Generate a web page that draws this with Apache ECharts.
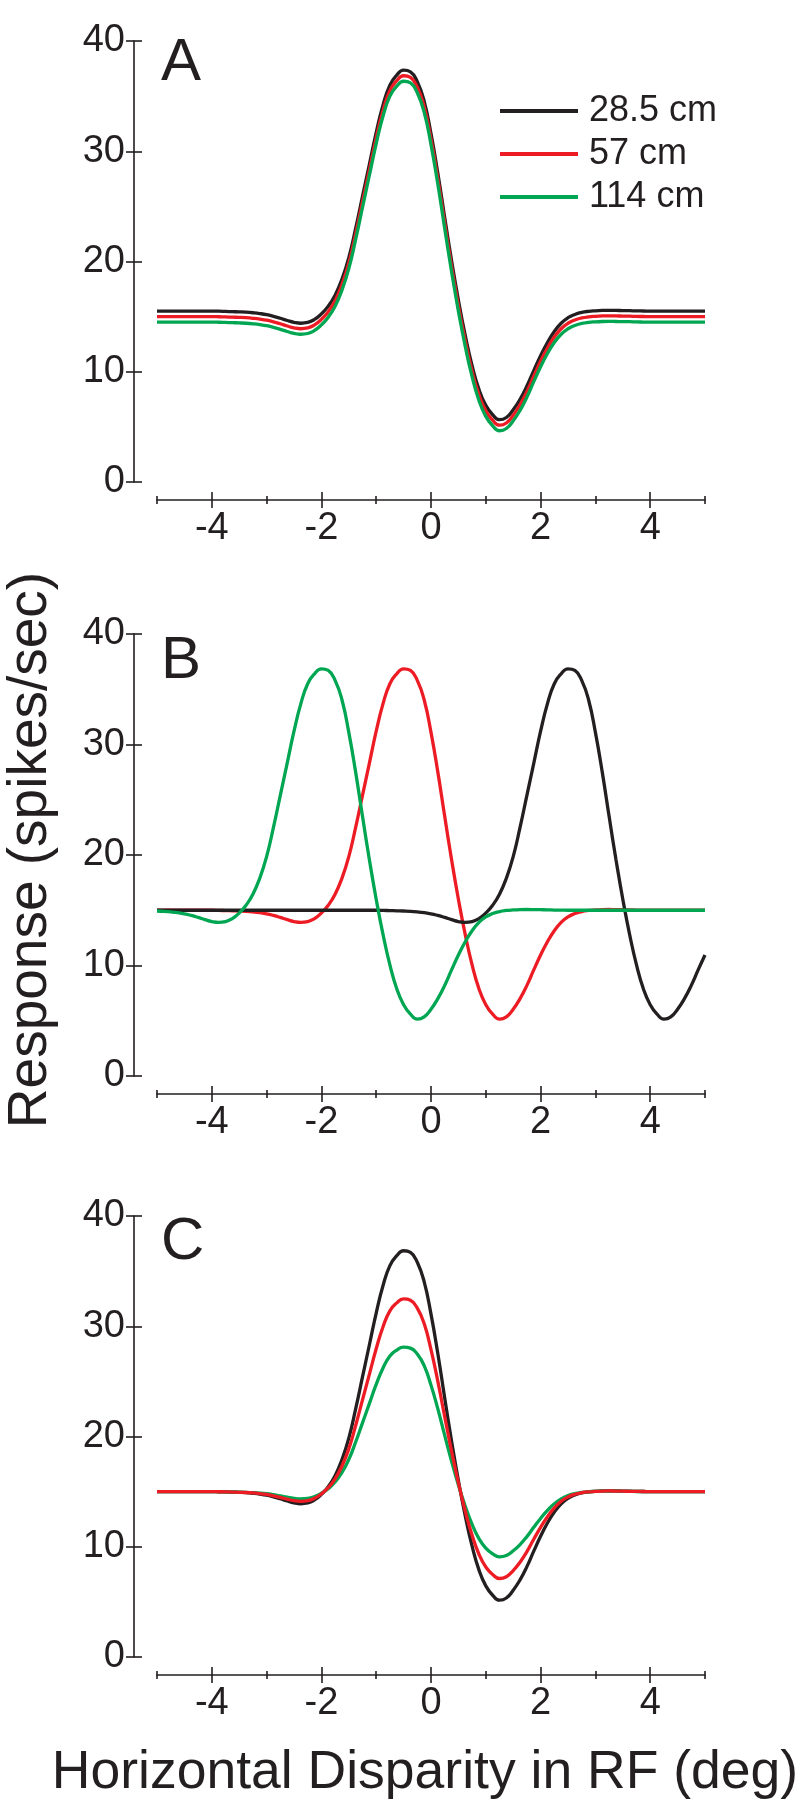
<!DOCTYPE html>
<html>
<head>
<meta charset="utf-8">
<script src="https://cdn.jsdelivr.net/npm/echarts@6/dist/echarts.min.js"></script>
<style>
html, body { margin: 0; padding: 0; background: #ffffff; }
#chart { width: 800px; height: 1806px; }
</style>
</head>
<body>
<div id="chart"></div>
<script>
// ---------- data ----------
const xs = [-5, -4.875, -4.75, -4.625, -4.5, -4.375, -4.25, -4.125, -4, -3.875, -3.75, -3.625, -3.5, -3.375, -3.25, -3.125,
  -3, -2.875, -2.75, -2.625, -2.5, -2.375, -2.25, -2.125, -2, -1.875, -1.75, -1.625, -1.5, -1.375, -1.25, -1.125,
  -1, -0.875, -0.75, -0.625, -0.5, -0.375, -0.25, -0.125, 0, 0.125, 0.25, 0.375, 0.5, 0.625, 0.75, 0.875,
  1, 1.125, 1.25, 1.375, 1.5, 1.625, 1.75, 1.875, 2, 2.125, 2.25, 2.375, 2.5, 2.625, 2.75, 2.875,
  3, 3.125, 3.25, 3.375, 3.5, 3.625, 3.75, 3.875, 4, 4.125, 4.25, 4.375, 4.5, 4.625, 4.75, 4.875, 5];

const seriesNames = ['28.5 cm', '57 cm', '114 cm'];

// Panel A
const aBlack = [15.5, 15.5, 15.5, 15.5, 15.5, 15.5, 15.5, 15.5, 15.5,
  15.49, 15.47, 15.45, 15.43, 15.4, 15.35, 15.28, 15.18, 15.03, 14.85,
  14.65, 14.48, 14.4, 14.47, 14.75, 15.25, 15.95, 16.95, 18.4, 20.35,
  23.0, 25.9, 28.8, 31.7, 34.2, 36.0, 36.9, 37.35, 37.2, 36.3,
  34.55, 31.6, 28.0, 24.0, 20.1, 16.5, 13.3, 10.55, 8.4, 6.95,
  6.1, 5.65, 5.85, 6.55, 7.5, 8.7, 10.1, 11.45, 12.65, 13.65,
  14.4, 14.9, 15.2, 15.38, 15.48, 15.53, 15.56, 15.57, 15.56, 15.55,
  15.54, 15.52, 15.51,
  15.5, 15.5, 15.5, 15.5, 15.5, 15.5, 15.5, 15.5, 15.5];
const aRed = [15, 15, 15, 15, 15, 15, 15, 15, 15,
  14.99, 14.97, 14.95, 14.93, 14.9, 14.85, 14.78, 14.68, 14.53, 14.35,
  14.15, 13.98, 13.9, 13.97, 14.25, 14.75, 15.45, 16.45, 17.9, 19.85,
  22.5, 25.4, 28.3, 31.2, 33.7, 35.5, 36.4, 36.85, 36.7, 35.8,
  34.05, 31.1, 27.5, 23.5, 19.6, 16.0, 12.8, 10.05, 7.9, 6.45,
  5.6, 5.15, 5.35, 6.05, 7.0, 8.2, 9.6, 10.95, 12.15, 13.15,
  13.9, 14.4, 14.7, 14.88, 14.98, 15.03, 15.06, 15.07, 15.06, 15.05,
  15.04, 15.02, 15.01,
  15, 15, 15, 15, 15, 15, 15, 15, 15];
const aGreen = [14.5, 14.5, 14.5, 14.5, 14.5, 14.5, 14.5, 14.5, 14.5,
  14.49, 14.47, 14.45, 14.43, 14.4, 14.35, 14.28, 14.18, 14.03, 13.85,
  13.65, 13.48, 13.4, 13.47, 13.75, 14.25, 14.95, 15.95, 17.4, 19.35,
  22.0, 24.9, 27.8, 30.7, 33.2, 35.0, 35.9, 36.35, 36.2, 35.3,
  33.55, 30.6, 27.0, 23.0, 19.1, 15.5, 12.3, 9.55, 7.4, 5.95,
  5.1, 4.65, 4.85, 5.55, 6.5, 7.7, 9.1, 10.45, 11.65, 12.65,
  13.4, 13.9, 14.2, 14.38, 14.48, 14.53, 14.56, 14.57, 14.56, 14.55,
  14.54, 14.52, 14.51,
  14.5, 14.5, 14.5, 14.5, 14.5, 14.5, 14.5, 14.5, 14.5];

// Panel B
const bBlack = [15, 15, 15, 15, 15, 15, 15, 15, 15, 15, 15, 15, 15, 15, 15, 15, 15,
  15, 15, 15, 15, 15, 15, 15, 15, 15, 15, 15, 15, 15, 15, 15, 15,
  14.99, 14.97, 14.95, 14.93, 14.9, 14.85, 14.78, 14.68, 14.53, 14.35,
  14.15, 13.98, 13.9, 13.97, 14.25, 14.75, 15.45, 16.45, 17.9, 19.85,
  22.5, 25.4, 28.3, 31.2, 33.7, 35.5, 36.4, 36.85, 36.7, 35.8,
  34.05, 31.1, 27.5, 23.5, 19.6, 16.0, 12.8, 10.05, 7.9, 6.45,
  5.6, 5.15, 5.35, 6.05, 7.0, 8.2, 9.6, 10.95];
const bRed = [15, 15, 15, 15, 15, 15, 15, 15, 15,
  14.99, 14.97, 14.95, 14.93, 14.9, 14.85, 14.78, 14.68, 14.53, 14.35,
  14.15, 13.98, 13.9, 13.97, 14.25, 14.75, 15.45, 16.45, 17.9, 19.85,
  22.5, 25.4, 28.3, 31.2, 33.7, 35.5, 36.4, 36.85, 36.7, 35.8,
  34.05, 31.1, 27.5, 23.5, 19.6, 16.0, 12.8, 10.05, 7.9, 6.45,
  5.6, 5.15, 5.35, 6.05, 7.0, 8.2, 9.6, 10.95, 12.15, 13.15,
  13.9, 14.4, 14.7, 14.88, 14.98, 15.03, 15.06, 15.07, 15.06, 15.05,
  15.04, 15.02, 15.01,
  15, 15, 15, 15, 15, 15, 15, 15, 15];
const bGreen = [14.93, 14.9, 14.85, 14.78, 14.68, 14.53, 14.35, 14.15, 13.98, 13.9,
  13.97, 14.25, 14.75, 15.45, 16.45, 17.9, 19.85, 22.5, 25.4, 28.3,
  31.2, 33.7, 35.5, 36.4, 36.85, 36.7, 35.8, 34.05, 31.1, 27.5,
  23.5, 19.6, 16.0, 12.8, 10.05, 7.9, 6.45, 5.6, 5.15, 5.35,
  6.05, 7.0, 8.2, 9.6, 10.95, 12.15, 13.15, 13.9, 14.4, 14.7,
  14.88, 14.98, 15.03, 15.06, 15.07, 15.06, 15.05, 15.04, 15.02, 15.01,
  15, 15, 15, 15, 15, 15, 15, 15, 15, 15, 15,
  15, 15, 15, 15, 15, 15, 15, 15, 15, 15];

// Panel C
const cBlack = [15, 15, 15, 15, 15, 15, 15, 15, 15,
  14.99, 14.97, 14.95, 14.93, 14.9, 14.85, 14.78, 14.68, 14.53, 14.35,
  14.15, 13.98, 13.9, 13.97, 14.25, 14.75, 15.45, 16.45, 17.9, 19.85,
  22.5, 25.4, 28.3, 31.2, 33.7, 35.5, 36.4, 36.85, 36.7, 35.8,
  34.05, 31.1, 27.5, 23.5, 19.6, 16.0, 12.8, 10.05, 7.9, 6.45,
  5.6, 5.15, 5.35, 6.05, 7.0, 8.2, 9.6, 10.95, 12.15, 13.15,
  13.9, 14.4, 14.7, 14.88, 14.98, 15.03, 15.06, 15.07, 15.06, 15.05,
  15.04, 15.02, 15.01,
  15, 15, 15, 15, 15, 15, 15, 15, 15];
const cRed = [15, 15, 15, 15, 15, 15, 15, 15, 15,
  14.99, 14.98, 14.96, 14.94, 14.92, 14.88, 14.82, 14.74, 14.62, 14.48,
  14.32, 14.18, 14.12, 14.18, 14.4, 14.8, 15.36, 16.16, 17.32, 18.88,
  21.0, 23.32, 25.64, 27.96, 29.96, 31.4, 32.12, 32.48, 32.36, 31.64,
  30.24, 27.88, 25.0, 21.8, 18.68, 15.8, 13.24, 11.04, 9.32, 8.16,
  7.48, 7.12, 7.28, 7.84, 8.6, 9.56, 10.68, 11.76, 12.72, 13.52,
  14.12, 14.52, 14.76, 14.9, 14.98, 15.02, 15.05, 15.06, 15.05, 15.04,
  15.03, 15.02, 15.01,
  15, 15, 15, 15, 15, 15, 15, 15, 15];
const cGreen = [15, 15, 15, 15, 15, 15, 15, 15, 15,
  14.99, 14.98, 14.97, 14.96, 14.94, 14.91, 14.87, 14.81, 14.72, 14.61,
  14.49, 14.39, 14.34, 14.38, 14.55, 14.85, 15.27, 15.87, 16.74, 17.91,
  19.5, 21.24, 22.98, 24.72, 26.22, 27.3, 27.84, 28.11, 28.02, 27.48,
  26.43, 24.66, 22.5, 20.1, 17.76, 15.6, 13.68, 12.03, 10.74, 9.87,
  9.36, 9.09, 9.21, 9.63, 10.2, 10.92, 11.76, 12.57, 13.29, 13.89,
  14.34, 14.64, 14.82, 14.93, 14.99, 15.02, 15.04, 15.04, 15.04, 15.03,
  15.02, 15.01, 15.01,
  15, 15, 15, 15, 15, 15, 15, 15, 15];

// ticks / labels
const yTickValues = [0, 10, 20, 30, 40];
const xMajorTicks = [-4, -2, 0, 2, 4];
const xMinorTicks = [-5, -3, -1, 1, 3, 5];
const panelLetters = ['A', 'B', 'C'];
const yTitle = 'Response (spikes/sec)';
const xTitle = 'Horizontal Disparity in RF (deg)';

// ---------- styling ----------
const INK = '#231f20';
const RED = '#ed1c24';
const GREEN = '#00a651';
const FONT = '"Liberation Sans", Arial, Helvetica, sans-serif';

const panelTops = [41, 634, 1216];
const panelHeights = [441, 442, 441];

const grids = panelTops.map((t, i) => ({ left: 157, width: 548, top: t, height: panelHeights[i] }));

function xAxisSet(gi) {
  const common = {
    type: 'value', gridIndex: gi, min: -5, max: 5, interval: 1, position: 'bottom', offset: 18,
    splitLine: { show: false }, axisLabel: { show: false },
    axisLine: { show: false, onZero: false }
  };
  return [
    Object.assign({}, common, {
      axisLine: { show: true, onZero: false, lineStyle: { color: INK, width: 1.6 } },
      axisTick: { show: true, inside: false, length: 4, customValues: xMinorTicks, lineStyle: { color: INK, width: 1.6 } },
      axisLabel: { show: true, customValues: xMajorTicks, margin: 10, fontSize: 38, color: INK, fontFamily: FONT }
    }),
    Object.assign({}, common, {
      axisTick: { show: true, inside: true, length: 4, customValues: xMinorTicks, lineStyle: { color: INK, width: 1.6 } }
    }),
    Object.assign({}, common, {
      axisTick: { show: true, inside: false, length: 8, customValues: xMajorTicks, lineStyle: { color: INK, width: 1.6 } }
    }),
    Object.assign({}, common, {
      axisTick: { show: true, inside: true, length: 8, customValues: xMajorTicks, lineStyle: { color: INK, width: 1.6 } }
    })
  ];
}

function yAxisSet(gi) {
  const common = {
    type: 'value', gridIndex: gi, min: 0, max: 40, interval: 10, position: 'left', offset: 23,
    splitLine: { show: false }
  };
  return [
    Object.assign({}, common, {
      axisLine: { show: true, onZero: false, lineStyle: { color: INK, width: 1.6 } },
      axisTick: { show: true, inside: false, length: 8, lineStyle: { color: INK, width: 1.6 } },
      axisLabel: { show: true, margin: 9, fontSize: 38, color: INK, fontFamily: FONT, padding: [0, 0, 6, 0],
        customValues: yTickValues }
    }),
    Object.assign({}, common, {
      axisLine: { show: false, onZero: false },
      axisTick: { show: true, inside: true, length: 8, lineStyle: { color: INK, width: 1.6 } },
      axisLabel: { show: false }
    })
  ];
}

const xAxes = [].concat(xAxisSet(0), xAxisSet(1), xAxisSet(2));
const yAxes = [].concat(yAxisSet(0), yAxisSet(1), yAxisSet(2));

function pts(vals) { return xs.map((x, i) => [x, vals[i]]); }

function line(name, color, vals, gi) {
  return {
    type: 'line', name: name, xAxisIndex: gi * 4, yAxisIndex: gi * 2,
    data: pts(vals), smooth: true, symbol: 'none', showSymbol: false,
    lineStyle: { color: color, width: 3.3 }, itemStyle: { color: color },
    silent: true
  };
}

const series = [
  line(seriesNames[0], INK, aBlack, 0),
  line(seriesNames[1], RED, aRed, 0),
  line(seriesNames[2], GREEN, aGreen, 0),
  line(seriesNames[1], RED, bRed, 1),
  line(seriesNames[0], INK, bBlack, 1),
  line(seriesNames[2], GREEN, bGreen, 1),
  line(seriesNames[0], INK, cBlack, 2),
  line(seriesNames[2], GREEN, cGreen, 2),
  line(seriesNames[1], RED, cRed, 2)
];

const letterY = [63, 661, 1242];
const graphics = panelLetters.map((L, i) => ({
  type: 'text', x: 161, y: letterY[i], silent: true,
  style: { text: L, fontSize: 60, fontFamily: FONT, fill: INK, align: 'left', verticalAlign: 'middle' }
}));
graphics.push({
  type: 'text', x: 31, y: 850, rotation: Math.PI / 2, silent: true,
  style: { text: yTitle, fontSize: 55, fontFamily: FONT, fill: INK, align: 'center', verticalAlign: 'middle' }
});
graphics.push({
  type: 'text', x: 425, y: 1773, silent: true,
  style: { text: xTitle, fontSize: 53.5, fontFamily: FONT, fill: INK, align: 'center', verticalAlign: 'middle' }
});

const chart = echarts.init(document.getElementById('chart'), null, { renderer: 'canvas', width: 800, height: 1806 });
chart.setOption({
  animation: false,
  backgroundColor: '#ffffff',
  grid: grids,
  xAxis: xAxes,
  yAxis: yAxes,
  legend: {
    show: true, orient: 'vertical', left: 500, top: 93, padding: 0,
    icon: 'rect', itemWidth: 78, itemHeight: 4, itemGap: 7,
    data: seriesNames,
    textStyle: { fontSize: 36, color: INK, fontFamily: FONT, lineHeight: 36, padding: [0, 0, 0, 6] },
    selectedMode: false
  },
  series: series,
  graphic: graphics
});
</script>
</body>
</html>
